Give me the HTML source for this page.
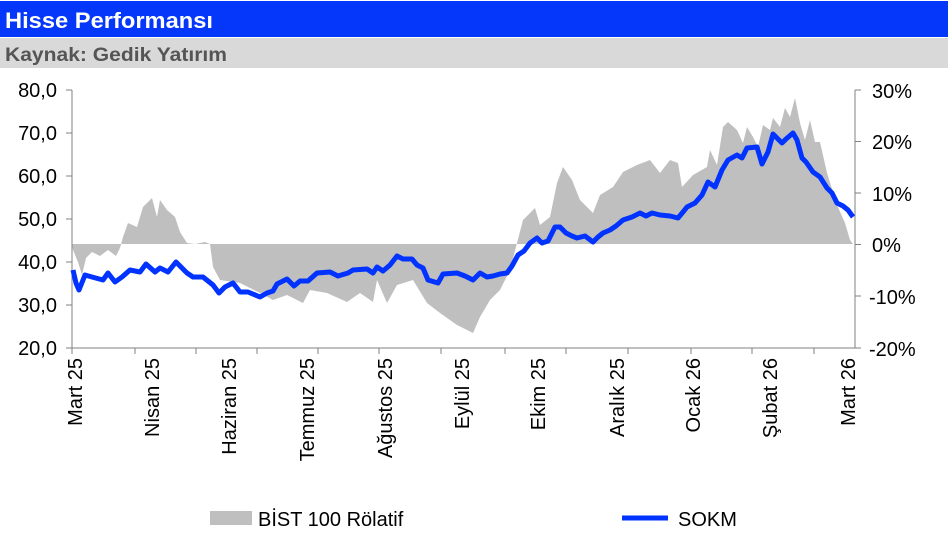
<!DOCTYPE html>
<html><head><meta charset="utf-8"><style>
body{margin:0;width:948px;height:536px;background:#fff;overflow:hidden;font-family:"Liberation Sans",sans-serif}
</style></head><body>
<svg width="948" height="536" xmlns="http://www.w3.org/2000/svg" font-family="Liberation Sans, sans-serif">
<rect x="0" y="1" width="948" height="36" fill="#0537fb"/>
<text x="5" y="28" font-size="22" font-weight="bold" fill="#fff" textLength="208" lengthAdjust="spacingAndGlyphs">Hisse Performansı</text>
<rect x="0" y="38" width="948" height="30" fill="#d9d9d9"/>
<text x="5" y="61" font-size="19" font-weight="bold" fill="#555" textLength="222" lengthAdjust="spacingAndGlyphs">Kaynak: Gedik Yatırım</text>

<path d="M72,244 L73,250 L78,262 L82,275 L86,258 L92,252 L100,256 L108,250 L116,256 L120,248 L123,237 L128,223 L137,227 L143,207 L152,198 L157,217 L160,200 L167,210 L175,217 L180,232 L187,243 L195,244 L205,242 L210,244 L213,267 L220,280 L240,283 L260,293 L273,300 L287,295 L303,303 L310,290 L327,293 L347,302 L360,293 L373,302 L377,280 L387,303 L397,285 L413,280 L427,303 L440,313 L457,325 L473,333 L480,317 L490,300 L500,290 L510,270 L517,243 L523,220 L535,208 L540,225 L550,217 L557,183 L563,167 L572,180 L580,200 L593,213 L600,195 L613,187 L623,172 L637,165 L650,160 L660,173 L670,160 L678,163 L682,187 L693,175 L707,167 L710,150 L717,165 L723,127 L728,122 L737,130 L743,143 L747,127 L753,137 L758,147 L763,125 L770,130 L773,118 L780,127 L785,108 L790,117 L795,98 L800,123 L805,140 L810,120 L815,142 L820,142 L827,173 L837,205 L845,223 L850,240 L853,244 Z" fill="#bfbfbf"/>

<g stroke="#808080" stroke-width="1" fill="none">
<line x1="72" y1="90" x2="72" y2="348"/>
<line x1="855" y1="90" x2="855" y2="348"/>
<line x1="72" y1="348" x2="855" y2="348"/>
<path d="M66,90H72M66,133H72M66,176H72M66,219H72M66,262H72M66,305H72M66,348H72"/>
<path d="M855,90H861M855,141.5H861M855,193H861M855,244.5H861M855,296H861M855,348H861"/>
<path d="M72,348V354M135,348V354M196,348V354M257,348V354M318,348V354M379,348V354M441,348V354M505,348V354M566,348V354M628,348V354M691,348V354M752,348V354M814,348V354"/>
</g>

<polyline fill="none" stroke="#0033ff" stroke-width="5" stroke-linejoin="round" points="73,270 76,283 79,290 85,275 92,277 103,280 108,273 115,282 122,277 130,270 140,272 146,264 155,272 160,268 168,272 176,262 187,273 193,277 203,277 213,285 219,293 225,287 233,283 240,292 248,292 260,297 267,293 273,291 277,284 287,279 294,286 300,281 308,281 317,273 330,272 338,276 348,273 353,270 367,269 373,273 377,267 383,271 390,265 397,256 403,259 412,259 417,265 423,268 428,280 438,283 443,274 457,273 465,276 473,280 480,273 487,277 493,276 500,274 507,273 512,266 518,255 524,251 530,243 537,238 542,243 548,241 555,227 560,227 566,233 572,236 577,238 585,236 593,242 598,237 603,233 610,230 616,226 623,220 632,217 640,213 646,216 652,213 660,215 670,216 678,218 683,212 687,207 695,203 702,195 708,182 715,187 722,170 728,160 737,155 742,158 747,148 757,147 762,164 768,152 773,134 782,143 786,139 793,133 797,140 802,158 806,162 813,172 820,177 827,188 832,193 837,203 843,206 848,210 853,217"/>

<g font-size="20" fill="#000" text-anchor="end">
<text x="57" y="97">80,0</text><text x="57" y="140">70,0</text><text x="57" y="183">60,0</text><text x="57" y="226">50,0</text><text x="57" y="269">40,0</text><text x="57" y="312">30,0</text><text x="57" y="355">20,0</text>
</g>
<g font-size="20" fill="#000">
<text x="872" y="98">30%</text><text x="872" y="149">20%</text><text x="872" y="201">10%</text><text x="872" y="252">0%</text><text x="869" y="304">-10%</text><text x="869" y="356">-20%</text>
</g>
<g font-size="20" fill="#000" text-anchor="end">
<text transform="translate(82,358) rotate(-90)">Mart 25</text>
<text transform="translate(159,358) rotate(-90)">Nisan 25</text>
<text transform="translate(236,358) rotate(-90)">Haziran 25</text>
<text transform="translate(314,358) rotate(-90)">Temmuz 25</text>
<text transform="translate(392,358) rotate(-90)">Ağustos 25</text>
<text transform="translate(469,358) rotate(-90)">Eylül 25</text>
<text transform="translate(545,358) rotate(-90)">Ekim 25</text>
<text transform="translate(624,358) rotate(-90)">Aralık 25</text>
<text transform="translate(700,358) rotate(-90)">Ocak 26</text>
<text transform="translate(777,358) rotate(-90)">Şubat 26</text>
<text transform="translate(855,358) rotate(-90)">Mart 26</text>
</g>

<rect x="210" y="511" width="42" height="14" fill="#bfbfbf"/>
<text x="258" y="526" font-size="20">BİST 100 Rölatif</text>
<line x1="622" y1="518" x2="668" y2="518" stroke="#0033ff" stroke-width="5"/>
<text x="678" y="526" font-size="20">SOKM</text>
</svg>
</body></html>
